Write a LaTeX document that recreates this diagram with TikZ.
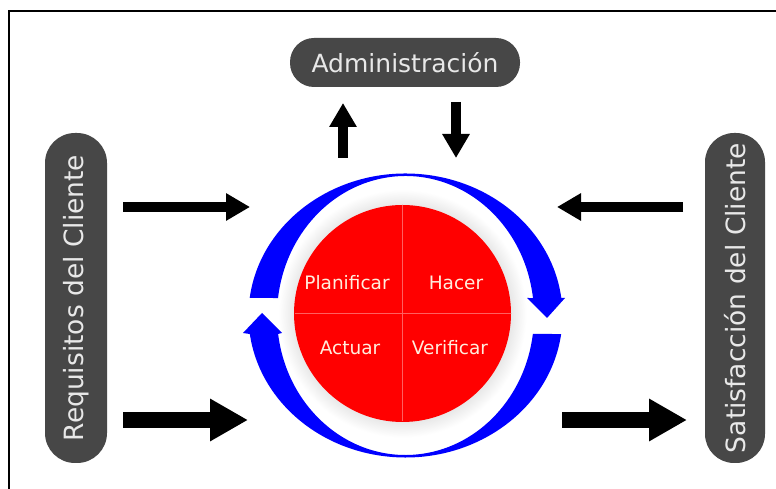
\documentclass[tikz,border=0pt]{standalone}
\usepackage{fontspec}
\setmainfont{DejaVu Sans}
\usetikzlibrary{arrows.meta,calc}
\definecolor{pillgray}{RGB}{71,71,71}
\definecolor{pilltext}{RGB}{232,232,232}
\definecolor{cream}{RGB}{255,238,222}
\definecolor{ringblue}{RGB}{0,0,255}
\definecolor{divred}{RGB}{255,95,95}
\pgfdeclareradialshading{halo}{\pgfpoint{0bp}{0bp}}{color(0bp)=(gray!20); color(21.5bp)=(gray!20); color(25bp)=(white); color(50bp)=(white)}
\tikzset{pill/.style={fill=pillgray, text=pilltext, inner sep=0pt}}
\tikzset{qlabel/.style={text=cream, font=\fontsize{18.5}{20}\selectfont, inner sep=0pt}}
\tikzset{divider/.style={draw=divred, line width=0.6pt}}
\tikzset{thinarrow/.style={line width=10pt, -{Triangle[width=26pt,length=24pt]}}}
\tikzset{thickarrow/.style={line width=16pt, -{Triangle[width=40pt,length=38pt]}}}
\begin{document}
\begin{tikzpicture}[x=1pt,y=1pt]
    \useasboundingbox (0,0) rectangle (776,489);
    \fill[white] (0,0) rectangle (776,489);
    % Frame
    \draw[line width=2pt] (9,-5) -- (9,478) -- (781,478);

    % Boxes
    \node[pill, minimum width=230pt, minimum height=49pt, rounded corners=24pt,
          font=\fontsize{25}{28}\selectfont] (admin) at (405,426.5) {Administración};
    \node[pill, rotate=90, minimum width=330pt, minimum height=62pt, rounded corners=30pt,
          font=\fontsize{26.5}{28}\selectfont] (req) at (76,191) {Requisitos del Cliente};
    \node[pill, rotate=90, minimum width=330pt, minimum height=60pt, rounded corners=29pt,
          font=\fontsize{26.5}{28}\selectfont] (sat) at (735,191) {Satisfacción del Cliente};

    % Disk
    \coordinate (c) at (405.5,173.5);
    \coordinate (d) at (402.5,175.5);
    \shade[shading=halo] (d) circle (124pt);
    \fill[red] (d) circle (108.5pt);
    \draw[divider] ($(d)+(0,108)$) -- ($(d)-(0,108)$);
    \draw[divider] ($(d)+(-108,0)$) -- ($(d)+(108,0)$);

    % Quadrants
    \node[qlabel] (plan) at (347,206) {Planificar};
    \node[qlabel] (hacer) at (456,206) {Hacer};
    \node[qlabel] (actuar) at (350,141) {Actuar};
    \node[qlabel] (verif) at (450,141) {Verificar};

    % Cycle arrows
    \fill[ringblue] ($(c)+(172.9:157 and 142)$) arc[start angle=172.9,end angle=7.1,x radius=157pt,y radius=142pt]
        -- (565,191) -- (547,171) -- (527,191) -- ($(c)+(7.2:128.5 and 139.5)$)
        arc[start angle=7.2,end angle=172.8,x radius=128.5pt,y radius=139.5pt] -- cycle;
    \fill[ringblue] ($(c)+(-7.5:157 and 142)$) arc[start angle=-7.5,end angle=-172.5,x radius=157pt,y radius=142pt]
        -- (243,156) -- (262,176) -- (282,156) -- ($(c)+(-172.4:128.5 and 139.5)$)
        arc[start angle=-172.4,end angle=-7.6,x radius=128.5pt,y radius=139.5pt] -- cycle;

    % Flow arrows
    \coordinate (upS) at (343,331);
    \coordinate (upE) at (343,386);
    \coordinate (dnS) at (456,387);
    \coordinate (dnE) at (456,331);
    \coordinate (reqA) at (123,282);
    \coordinate (inA) at (250,282);
    \coordinate (reqB) at (123,69);
    \coordinate (inB) at (248,69);
    \coordinate (satA) at (683,282);
    \coordinate (outA) at (557,282);
    \coordinate (outB) at (562,69);
    \coordinate (satB) at (687,69);
    \draw[thinarrow] (upS) -- (upE);
    \draw[thinarrow] (dnS) -- (dnE);
    \draw[thinarrow] (reqA) -- (inA);
    \draw[thinarrow] (satA) -- (outA);
    \draw[thickarrow] (reqB) -- (inB);
    \draw[thickarrow] (outB) -- (satB);
\end{tikzpicture}
\end{document}
